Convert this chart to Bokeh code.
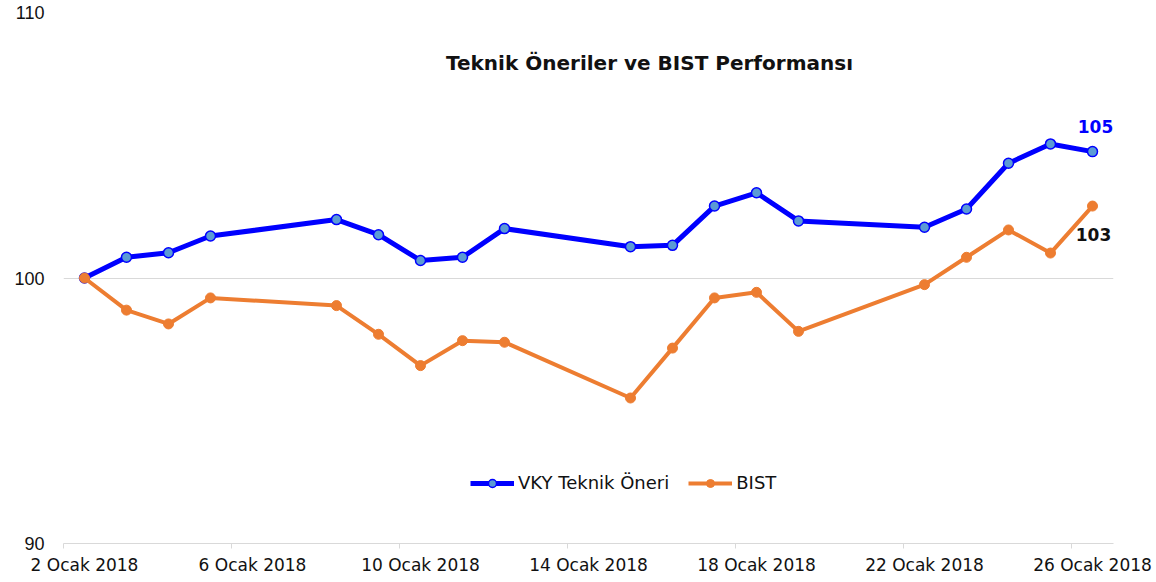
import pandas as pd
from bokeh.plotting import figure
from bokeh.models import Range1d, FixedTicker, Legend, LegendItem, Label, ColumnDataSource
from bokeh.core.properties import value
from bokeh.embed import file_html
from bokeh.resources import INLINE

# ---- data ----
dates = ["2018-01-02", "2018-01-03", "2018-01-04", "2018-01-05", "2018-01-08",
         "2018-01-09", "2018-01-10", "2018-01-11", "2018-01-12", "2018-01-15",
         "2018-01-16", "2018-01-17", "2018-01-18", "2018-01-19", "2018-01-22",
         "2018-01-23", "2018-01-24", "2018-01-25", "2018-01-26"]
vky = [100.0, 100.78, 100.95, 101.58, 102.20, 101.63, 100.66, 100.78, 101.86, 101.18,
       101.23, 102.71, 103.21, 102.15, 101.91, 102.60, 104.32, 105.05, 104.76]
bist = [100.0, 98.79, 98.27, 99.25, 98.96, 97.88, 96.70, 97.64, 97.58, 95.48,
        97.36, 99.25, 99.46, 97.99, 99.75, 100.78, 101.81, 100.94, 102.71]
series_names = ["VKY Teknik Öneri", "BIST"]
tick_days = [2, 6, 10, 14, 18, 22, 26]
tick_labels = ["2 Ocak 2018", "6 Ocak 2018", "10 Ocak 2018", "14 Ocak 2018",
               "18 Ocak 2018", "22 Ocak 2018", "26 Ocak 2018"]
y_ticks = [90, 100, 110]
title_text = "Teknik Öneriler ve BIST Performansı"

# Excel-style date axis: each date occupies a one-day slot, point in its middle
day_pos = [d + 0.5 for d in pd.to_datetime(dates).day]
src = ColumnDataSource(dict(x=day_pos, vky=vky, bist=bist))

BLUE = "#0000FF"
ORANGE = "#ED7D31"
GRID = "#D9D9D9"
TXT = "#111111"

p = figure(width=1156, height=582, output_backend="svg", toolbar_location=None,
           x_range=Range1d(2, 27), y_range=Range1d(90, 110),
           min_border_left=63, min_border_right=43, min_border_top=12, min_border_bottom=39)
p.outline_line_color = None
p.background_fill_color = "white"
p.border_fill_color = "white"

# grid
p.xgrid.visible = False
p.ygrid.ticker = FixedTicker(ticks=y_ticks)
p.ygrid.grid_line_color = GRID
p.ygrid.grid_line_width = 1

# y axis
p.yaxis.ticker = FixedTicker(ticks=y_ticks)
p.yaxis.axis_line_color = None
p.yaxis.major_tick_line_color = None
p.yaxis.minor_tick_line_color = None
p.yaxis.major_label_standoff = 13
p.yaxis.major_label_text_font = "Liberation Sans"
p.yaxis.major_label_text_font_size = "18px"
p.yaxis.major_label_text_color = TXT

# x axis: labels centred in the day slots, small marks at the day boundaries
label_pos = [d + 0.5 for d in tick_days]
xa = p.xaxis[0]
xa.ticker = FixedTicker(ticks=label_pos, minor_ticks=tick_days)
xa.major_label_overrides = {lp: lb for lp, lb in zip(label_pos, tick_labels)}
xa.axis_line_color = GRID
xa.major_tick_line_color = None
xa.major_tick_out = 0
xa.major_tick_in = 0
xa.minor_tick_line_color = GRID
xa.minor_tick_out = 5
xa.minor_tick_in = 0
xa.major_label_standoff = 6
xa.major_label_text_font = "DejaVu Sans"
xa.major_label_text_font_size = "17px"
xa.major_label_text_color = TXT

# series
l1 = p.line("x", "vky", source=src, line_color=BLUE, line_width=5)
s1 = p.scatter("x", "vky", source=src, size=10, fill_color="#5B9BD5",
               line_color=BLUE, line_width=1.5)
l2 = p.line("x", "bist", source=src, line_color=ORANGE, line_width=4)
s2 = p.scatter("x", "bist", source=src, size=10, fill_color=ORANGE,
               line_color=ORANGE, line_width=1)

# end labels
p.text(x=[day_pos[-1]], y=[vky[-1]], text=[f"{round(vky[-1])}"], x_offset=3, y_offset=-25,
       text_align="center", text_baseline="middle", text_font=value("DejaVu Sans"),
       text_font_style="bold", text_font_size="17px", text_color=BLUE)
p.text(x=[day_pos[-1]], y=[bist[-1]], text=[f"{round(bist[-1])}"], x_offset=1, y_offset=28,
       text_align="center", text_baseline="middle", text_font=value("DejaVu Sans"),
       text_font_style="bold", text_font_size="17px", text_color=TXT)

# title inside the frame
p.add_layout(Label(x=586, y=481, x_units="screen", y_units="screen", text=title_text,
                   text_align="center", text_baseline="middle",
                   text_font="DejaVu Sans", text_font_style="bold",
                   text_font_size="20px", text_color=TXT))

# legend
legend = Legend(items=[LegendItem(label=series_names[0], renderers=[l1, s1]),
                       LegendItem(label=series_names[1], renderers=[l2, s2])],
                orientation="horizontal", location=(407, 50),
                glyph_width=44, glyph_height=20, label_standoff=4, spacing=19,
                padding=0, margin=0, border_line_color=None, background_fill_alpha=0,
                label_text_font="DejaVu Sans", label_text_font_size="18px",
                label_text_color=TXT)
p.add_layout(legend)

open("out.html", "w").write(file_html(p, INLINE))
